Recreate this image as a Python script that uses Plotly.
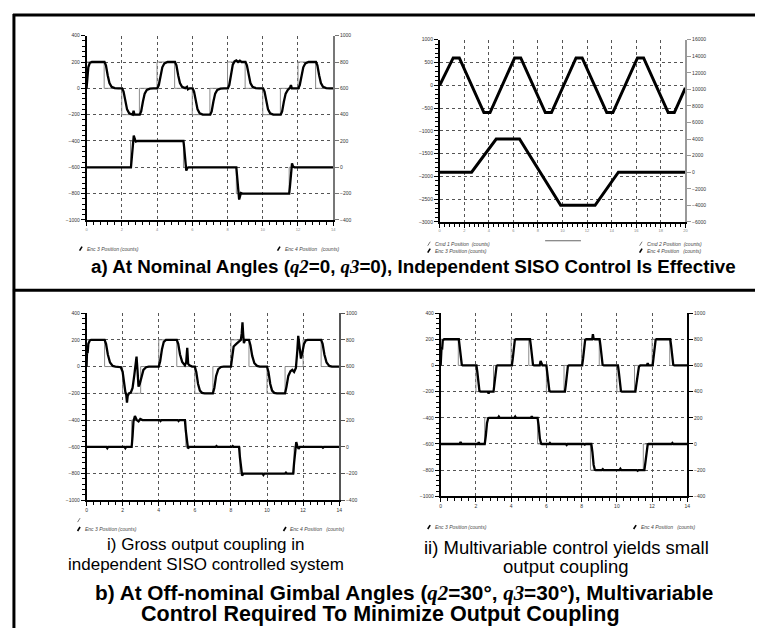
import plotly.graph_objects as go

W, H = 758, 641

# ---------------- data ----------------
# command steps shared by panels a-left, b-i, b-ii
cmd3_t = [0, 0, 1, 1, 2, 2, 3, 3, 4, 4, 5, 5, 6, 6, 7, 7, 8, 8, 9, 9, 10, 10, 11, 11, 12, 12, 13, 13, 14]
cmd3_v = [0, 200, 200, 0, 0, -200, -200, 0, 0, 200, 200, 0, 0, -200, -200, 0, 0, 200, 200, 0, 0, -200, -200, 0, 0, 200, 200, 0, 0]
cmd4_t = [0, 2.5, 2.5, 5.5, 5.5, 8.5, 8.5, 11.5, 11.5, 14]
cmd4_v = [0, 0, 200, 200, 0, 0, -200, -200, 0, 0]

# a) nominal angles, left plot
a_enc3 = [(0, 0), (0.04, 90), (0.1, 160), (0.18, 192), (0.3, 200),
          (1.02, 200), (1.1, 175), (1.2, 100), (1.3, 40), (1.42, 12), (1.6, 2), (1.8, 0),
          (2.02, 0), (2.1, -25), (2.2, -100), (2.3, -160), (2.42, -190), (2.55, -198), (2.62, -200), (2.67, -170), (2.72, -200),
          (3.02, -200), (3.1, -175), (3.2, -100), (3.3, -40), (3.42, -12), (3.6, -2), (3.8, 0),
          (4.02, 0), (4.1, 25), (4.2, 100), (4.3, 160), (4.42, 190), (4.6, 200),
          (5.02, 200), (5.1, 175), (5.2, 100), (5.3, 40), (5.42, 12), (5.6, 2), (5.7, 12), (5.75, -8), (5.85, 0),
          (6.02, 0), (6.1, -25), (6.2, -100), (6.3, -160), (6.42, -190), (6.6, -200),
          (7.02, -200), (7.1, -175), (7.2, -100), (7.3, -40), (7.42, -12), (7.6, -2), (7.8, 0),
          (8.02, 0), (8.1, 25), (8.2, 110), (8.3, 180), (8.4, 205), (8.5, 212), (8.6, 200), (8.7, 210), (8.8, 200),
          (9.02, 200), (9.1, 175), (9.2, 100), (9.3, 40), (9.42, 12), (9.6, 2), (9.8, 0),
          (10.02, 0), (10.1, -25), (10.2, -100), (10.3, -160), (10.42, -190), (10.6, -200),
          (11.02, -200), (11.1, -175), (11.2, -100), (11.3, -40), (11.42, -12), (11.55, 5), (11.6, 25), (11.65, 0), (11.8, 0),
          (12.02, 0), (12.1, 25), (12.2, 100), (12.3, 160), (12.42, 190), (12.6, 200),
          (13.02, 200), (13.1, 175), (13.2, 100), (13.3, 40), (13.42, 12), (13.6, 2), (13.8, 0), (14, 0)]
a_enc4 = [(0, 0), (2.52, 0), (2.58, 90), (2.63, 180), (2.68, 240), (2.74, 215), (2.8, 195), (2.9, 200),
          (5.5, 200), (5.54, 150), (5.58, 60), (5.62, -10), (5.66, -25), (5.72, -5), (5.8, 0),
          (8.5, 0), (8.54, -60), (8.58, -150), (8.62, -210), (8.66, -245), (8.7, -225), (8.76, -195), (8.85, -200),
          (11.5, -200), (11.54, -150), (11.58, -60), (11.62, 10), (11.66, 30), (11.72, 5), (11.8, 0), (14, 0)]

# a) nominal angles, right plot (triangle and trapezoid)
tri_t = [0, 1.1, 1.6, 3.6, 4.1, 6.1, 6.6, 8.6, 9.1, 11.1, 11.6, 13.6, 14.1, 16.1, 16.6, 18.6, 19.1, 20]
tri_v = [0, 600, 600, -600, -600, 600, 600, -600, -600, 600, 600, -600, -600, 600, 600, -600, -600, -60]
trap_t = [0, 2.6, 4.6, 6.5, 9.85, 12.65, 14.55, 20]
trap_v = [0, 0, 4000, 4000, -4000, -4000, 0, 0]

# b-i) independent SISO control at off-nominal angles
bi_enc3 = [(0, 0), (0.03, 120), (0.06, 100), (0.1, 170), (0.18, 195), (0.25, 200),
           (1.0, 200), (1.08, 170), (1.18, 90), (1.3, 30), (1.45, 5), (1.6, 0),
           (1.9, -5), (2.0, -40), (2.08, -130), (2.15, -190), (2.2, -210), (2.24, -270), (2.28, -220), (2.35, -200),
           (2.45, -195), (2.55, -160), (2.65, -60), (2.72, 40), (2.77, 75), (2.82, -20), (2.88, -150), (2.95, -130),
           (3.05, -70), (3.15, -25), (3.3, -5), (3.45, 0),
           (4.0, 0), (4.08, 40), (4.18, 130), (4.28, 185), (4.4, 200),
           (5.0, 200), (5.08, 170), (5.18, 90), (5.3, 35), (5.45, 10), (5.52, 30), (5.58, 140), (5.63, 20), (5.7, 10), (5.85, 0),
           (6.0, 0), (6.08, -40), (6.18, -130), (6.28, -180), (6.4, -197), (6.55, -200),
           (7.0, -200), (7.08, -160), (7.18, -70), (7.3, -20), (7.45, -3), (7.6, 0),
           (8.0, 0), (8.06, 60), (8.15, 150), (8.3, 170), (8.45, 190), (8.55, 200), (8.6, 250), (8.64, 330), (8.68, 240),
           (8.72, 175), (8.78, 200),
           (9.0, 200), (9.08, 160), (9.18, 80), (9.3, 25), (9.45, 5), (9.6, 0),
           (10.0, 0), (10.08, -40), (10.18, -130), (10.28, -180), (10.4, -197), (10.55, -200),
           (11.0, -200), (11.08, -150), (11.18, -70), (11.3, -35), (11.4, -25), (11.5, -40), (11.6, -10), (11.68, 120),
           (11.73, 230), (11.8, 150), (11.88, 60), (11.95, 100), (12.05, 170), (12.15, 195), (12.25, 200),
           (13.0, 200), (13.08, 170), (13.18, 90), (13.3, 30), (13.45, 5), (13.6, 0), (14, 0)]
bi_enc4 = [(0, 0), (1.1, 0), (1.15, -10), (1.2, 0), (2.1, 0), (2.15, -10), (2.2, 0), (2.5, 0), (2.55, 80), (2.6, 190),
           (2.68, 230), (2.78, 200), (2.88, 190), (2.98, 208), (3.1, 200),
           (4.05, 200), (4.1, 193), (4.15, 200), (5.05, 200), (5.1, 193), (5.15, 200), (5.45, 200), (5.5, 120),
           (5.56, 20), (5.62, -12), (5.7, 0),
           (7.15, 0), (7.2, 6), (7.25, 0), (8.05, 0), (8.1, 6), (8.15, 0), (8.45, 0), (8.5, -80), (8.56, -180),
           (8.62, -215), (8.7, -200),
           (9.75, -200), (9.8, -210), (9.85, -200), (11.0, -200), (11.05, -193), (11.1, -200), (11.45, -200),
           (11.5, -120), (11.56, -10), (11.62, 35), (11.68, 5), (11.75, -15), (11.82, 0),
           (13.05, 0), (13.1, -6), (13.15, 0), (14, 0)]

# b-ii) multivariable control at off-nominal angles
bii_enc3 = [(0, 0), (0.05, 140), (0.08, 120), (0.12, 190), (0.2, 200),
            (1.03, 200), (1.08, 150), (1.14, 50), (1.2, 5), (1.25, 0),
            (2.03, 0), (2.08, -50), (2.14, -150), (2.2, -195), (2.27, -200), (2.68, -200), (2.72, -215), (2.76, -200),
            (3.0, -200), (3.05, -150), (3.11, -50), (3.17, -5), (3.22, 0),
            (4.04, 0), (4.09, 50), (4.15, 150), (4.21, 195), (4.27, 200),
            (5.07, 200), (5.12, 150), (5.18, 50), (5.24, 5), (5.3, 0), (5.62, 0), (5.67, 35), (5.72, 15), (5.78, 0),
            (6.0, 0), (6.05, -50), (6.11, -150), (6.17, -195), (6.24, -200),
            (7.05, -200), (7.1, -150), (7.16, -50), (7.22, -5), (7.28, 0),
            (8.03, 0), (8.08, 50), (8.14, 150), (8.2, 195), (8.26, 200), (8.6, 200), (8.64, 238), (8.68, 205), (8.75, 200),
            (9.02, 200), (9.07, 150), (9.13, 50), (9.19, 5), (9.26, 0),
            (10.06, 0), (10.11, -50), (10.17, -150), (10.23, -195), (10.29, -200),
            (11.05, -200), (11.1, -150), (11.17, -60), (11.25, -10), (11.33, 0), (11.7, 0), (11.75, 18), (11.8, 0),
            (12.03, 0), (12.08, 50), (12.14, 150), (12.2, 195), (12.25, 200),
            (13.03, 200), (13.08, 150), (13.14, 50), (13.2, 5), (13.26, 0), (14, 0)]
bii_enc4 = [(0, 0), (1.08, 0), (1.13, 15), (1.18, 0), (2.11, 0), (2.16, 12), (2.21, 0), (2.5, 0), (2.56, 60),
            (2.63, 160), (2.7, 198), (2.75, 200),
            (3.25, 200), (3.3, 210), (3.35, 200), (4.18, 200), (4.23, 210), (4.28, 200), (5.12, 200), (5.17, 212),
            (5.22, 200), (5.5, 200), (5.56, 140), (5.63, 40), (5.7, 3), (5.75, 0),
            (6.15, 0), (6.2, 8), (6.25, 0), (7.1, 0), (7.15, -8), (7.2, 0), (8.13, 0), (8.18, -5), (8.23, 0),
            (8.55, 0), (8.61, -60), (8.68, -160), (8.75, -198), (8.8, -200),
            (9.15, -200), (9.2, -193), (9.25, -200), (10.15, -200), (10.2, -190), (10.25, -200), (11.13, -200),
            (11.18, -205), (11.23, -200), (11.56, -200), (11.62, -140), (11.69, -40), (11.75, -3), (11.8, 0),
            (12.25, 0), (12.3, 3), (12.35, 0), (13.1, 0), (13.15, 8), (13.2, 0), (14, 0)]

legend_enc3 = "Enc 3 Position (counts)"
legend_enc4 = "Enc 4 Position   (counts)"
legend_cmd1 = "Cmd 1 Position  (counts)"
legend_cmd2 = "Cmd 2 Position  (counts)"

Q = '<span style="font-family:Liberation Serif;font-style:italic">q%s</span>'
caption_a = "<b>a) At Nominal Angles (" + Q % "2" + "=0, " + Q % "3" + "=0), Independent SISO Control Is Effective</b>"
caption_b1 = "<b>b) At Off-nominal Gimbal Angles (" + Q % "2" + "=30°, " + Q % "3" + "=30°), Multivariable</b>"
caption_b2 = "<b>Control Required To Minimize Output Coupling</b>"
caption_i = ["i) Gross output coupling in", "independent SISO controlled system"]
caption_ii = ["ii) Multivariable control yields small", "output coupling"]


# ---------------- helpers ----------------
def fx(px):
    return px / W


def fy(py):
    return 1 - py / H


def split(pairs):
    return [p[0] for p in pairs], [p[1] for p in pairs]


fig = go.Figure()

GRAY = "#8c8c8c"
ENC_W = 2.3


def add(x, y, xa, ya, color="black", width=ENC_W):
    fig.add_trace(go.Scatter(x=x, y=y, xaxis=xa, yaxis=ya, mode="lines",
                             line=dict(color=color, width=width), hoverinfo="skip"))


# panel a-left  (x, y, y2)
add(cmd3_t, cmd3_v, "x", "y", GRAY, 1)
add(cmd4_t, cmd4_v, "x", "y2", GRAY, 1)
add(*split(a_enc3), "x", "y")
add(*split(a_enc4), "x", "y2")
# panel a-right (x2, y3, y4)
add(tri_t, tri_v, "x2", "y3", GRAY, 1)
add(trap_t, trap_v, "x2", "y4", GRAY, 1)
add(tri_t, tri_v, "x2", "y3", "black", 3)
add(trap_t, trap_v, "x2", "y4", "black", 3)
# panel b-i (x3, y5, y6)
add(cmd3_t, cmd3_v, "x3", "y5", GRAY, 1)
add(cmd4_t, cmd4_v, "x3", "y6", GRAY, 1)
add(*split(bi_enc3), "x3", "y5")
add(*split(bi_enc4), "x3", "y6")
# panel b-ii (x4, y7, y8)
add(cmd3_t, cmd3_v, "x4", "y7", GRAY, 1)
add(cmd4_t, cmd4_v, "x4", "y8", GRAY, 1)
add(*split(bii_enc3), "x4", "y7")
add(*split(bii_enc4), "x4", "y8")

TF = "Liberation Sans"


def xaxis(px0, px1, anchor, rng, dtick, minor, labsize, labcolor):
    return dict(domain=[fx(px0), fx(px1)], anchor=anchor, range=rng, dtick=dtick, tick0=0,
                showgrid=True, griddash="dot", gridcolor="#555", gridwidth=1,
                showline=True, linecolor="black", linewidth=1.5, zeroline=False,
                ticks="outside", ticklen=4, tickcolor="black", tickwidth=1,
                minor=dict(dtick=minor, tick0=0, ticks="outside", ticklen=3, tickcolor="black", showgrid=False),
                tickfont=dict(family=TF, size=labsize, color=labcolor), fixedrange=True)


def yleft(py0, py1, anchor, rng, dtick, minor):
    return dict(domain=[fy(py1), fy(py0)], anchor=anchor, range=rng, dtick=dtick, tick0=0,
                showgrid=True, griddash="dot", gridcolor="#555", gridwidth=1,
                showline=True, linecolor="black", linewidth=1.5, zeroline=False,
                ticks="outside", ticklen=4, tickcolor="black", tickformat="d",
                minor=dict(dtick=minor, tick0=0, ticks="outside", ticklen=3, tickcolor="black", showgrid=False),
                tickfont=dict(family=TF, size=5, color="#333"), fixedrange=True)


def yright(overlay, anchor, rng, dtick, lc):
    return dict(overlaying=overlay, side="right", anchor=anchor, range=rng, dtick=dtick, tick0=0,
                showgrid=False, showline=True, linecolor=lc, linewidth=1.5, zeroline=False,
                ticks="outside", ticklen=4, tickcolor=lc, tickformat="d",
                tickfont=dict(family=TF, size=5, color="#333"), fixedrange=True)


fig.update_layout(
    width=W, height=H, autosize=False, showlegend=False,
    margin=dict(l=0, r=0, t=0, b=0),
    paper_bgcolor="white", plot_bgcolor="white",
    xaxis=xaxis(86, 334, "y", [0, 14], 2, 0.4, 4, "#888"),
    yaxis=yleft(33, 219, "x", [-1000, 400], 200, 40),
    yaxis2=yright("y", "x", [-400, 1000], 200, "#777"),
    xaxis2=xaxis(441, 688, "y3", [0, 20], 2, 0.4, 4, "#888"),
    yaxis3=yleft(37, 221, "x2", [-3000, 1000], 500, 100),
    yaxis4=yright("y3", "x2", [-6000, 16000], 2000, "#999"),
    xaxis3=xaxis(86, 340, "y5", [0, 14], 2, 0.4, 5, "#333"),
    yaxis5=yleft(313, 502, "x3", [-1000, 400], 200, 40),
    yaxis6=yright("y5", "x3", [-400, 1000], 200, "#555"),
    xaxis4=xaxis(442, 690, "y7", [0, 14], 2, 0.4, 5, "#333"),
    yaxis7=yleft(313, 498, "x4", [-1000, 400], 200, 40),
    yaxis8=yright("y7", "x4", [-400, 1000], 200, "black"),
)

shapes = []
# outer frame (left + top) and divider between the two sections
shapes.append(dict(type="line", xref="paper", yref="paper", x0=fx(13), x1=fx(13), y0=fy(11), y1=fy(631),
                   line=dict(color="black", width=3)))
shapes.append(dict(type="line", xref="paper", yref="paper", x0=fx(12), x1=fx(758), y0=fy(12), y1=fy(12),
                   line=dict(color="black", width=3)))
shapes.append(dict(type="line", xref="paper", yref="paper", x0=fx(12), x1=fx(758), y0=fy(290), y1=fy(290),
                   line=dict(color="black", width=3)))
# short stray line in legend area of a-right
shapes.append(dict(type="line", xref="paper", yref="paper", x0=fx(547), x1=fx(583), y0=fy(240), y1=fy(240),
                   line=dict(color="#666", width=1)))

annotations = []


def legend_item(px, py, text, bold=True):
    shapes.append(dict(type="line", xref="paper", yref="paper", x0=fx(px - 1), x1=fx(px + 1.5), y0=fy(py + 2),
                       y1=fy(py - 2), line=dict(color="black" if bold else "#555", width=1.6 if bold else 0.8)))
    if text:
        annotations.append(dict(xref="paper", yref="paper", x=fx(px + 4), y=fy(py), text="<i>" + text + "</i>",
                                showarrow=False, xanchor="left", yanchor="middle",
                                font=dict(family=TF, size=5, color="#444")))


legend_item(80, 248, legend_enc3)
legend_item(279, 248, legend_enc4)
legend_item(430, 243, legend_cmd1, bold=False)
legend_item(430, 250, legend_enc3)
legend_item(643, 243, legend_cmd2, bold=False)
legend_item(643, 250, legend_enc4)
legend_item(78, 522, "", bold=False)
legend_item(78, 531, legend_enc3)
legend_item(285, 531, legend_enc4)
legend_item(430, 529, legend_enc3)
legend_item(637, 529, legend_enc4)


def cap(x, y, text, size, anchor="left"):
    annotations.append(dict(xref="paper", yref="paper", x=fx(x), y=fy(y), text=text, showarrow=False,
                            xanchor=anchor, yanchor="middle", font=dict(family=TF, size=size, color="black")))


cap(88, 266, caption_a, 18.8)
cap(92, 596, caption_b1, 20.8)
cap(382, 617, caption_b2, 21.5, "center")
cap(206, 547, caption_i[0], 17, "center")
cap(206, 567, caption_i[1], 17, "center")
cap(568, 550, caption_ii[0], 18.5, "center")
cap(568, 569, caption_ii[1], 18.5, "center")

fig.update_layout(shapes=shapes, annotations=annotations)

fig.write_html("out.html")
